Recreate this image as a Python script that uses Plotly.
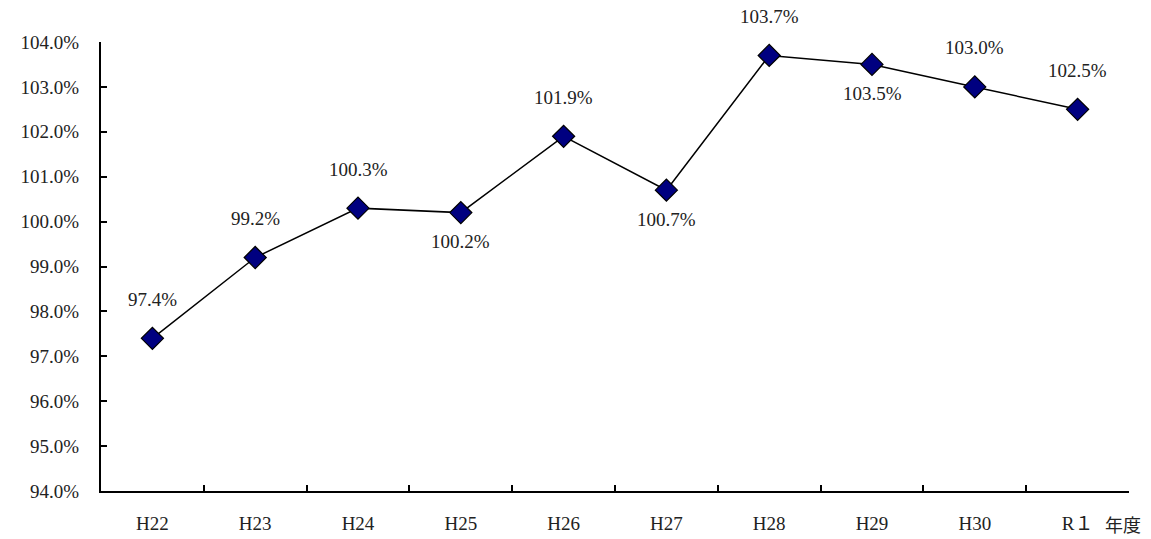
import plotly.graph_objects as go

years = ["H22", "H23", "H24", "H25", "H26", "H27", "H28", "H29", "H30", "R１"]
values = [97.4, 99.2, 100.3, 100.2, 101.9, 100.7, 103.7, 103.5, 103.0, 102.5]
label_above = [True, True, True, False, True, False, True, False, True, True]
y_ticks = [94, 95, 96, 97, 98, 99, 100, 101, 102, 103, 104]

FONT = "Liberation Serif, Noto Sans CJK JP, serif"
TXT = "#222"

fig = go.Figure()
fig.add_trace(go.Scatter(
    x=years, y=values, mode="lines+markers",
    line=dict(color="black", width=1.5),
    marker=dict(symbol="diamond", size=17, color="#000080",
                line=dict(color="black", width=1.2)),
    showlegend=False, hoverinfo="skip",
))

for yr, v, up in zip(years, values, label_above):
    fig.add_annotation(x=yr, y=v, xref="x", yref="y", text=f"{v:.1f}%",
                       showarrow=False, yshift=39 if up else -29,
                       font=dict(family=FONT, size=19, color=TXT))

fig.add_annotation(x=1.0, y=0, xref="paper", yref="paper", text="年度",
                   showarrow=False, xanchor="center", yanchor="middle",
                   xshift=-6, yshift=-33, borderpad=0,
                   font=dict(family="Noto Sans CJK JP", size=18, color=TXT))

fig.update_layout(
    width=1151, height=539,
    margin=dict(l=101, r=22, t=42, b=48),
    paper_bgcolor="white", plot_bgcolor="white",
    font=dict(family=FONT, size=19, color=TXT),
)
fig.update_xaxes(
    type="category", range=[-0.5, 9.5], tickson="boundaries", automargin=False,
    showline=True, linecolor="black", linewidth=2,
    ticks="inside", ticklen=6, tickcolor="black", tickwidth=1.5,
    showgrid=False, zeroline=False, ticklabelstandoff=14,
    tickfont=dict(family=FONT, size=19, color=TXT),
)
fig.update_yaxes(
    range=[94, 104], tickvals=y_ticks, ticktext=[f"{t:.1f}%" for t in y_ticks],
    automargin=False,
    showline=True, linecolor="black", linewidth=2,
    ticks="inside", ticklen=6, tickcolor="black", tickwidth=1.5,
    showgrid=False, zeroline=False, ticklabelstandoff=16,
    tickfont=dict(family=FONT, size=19, color=TXT),
)

fig.write_html("out.html")
